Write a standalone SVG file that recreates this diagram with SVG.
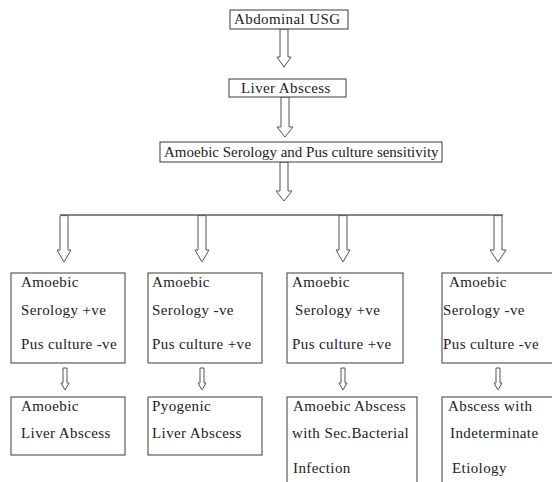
<svg xmlns="http://www.w3.org/2000/svg" width="552" height="482" viewBox="0 0 552 482">
<style>
.box{fill:#fff;stroke:#3a3a3a;stroke-width:1}
.arr{fill:#fff;stroke:#555;stroke-width:1}
.t{font-family:'Liberation Serif','Tinos','DejaVu Serif',serif;font-size:15px;fill:#222;letter-spacing:0.4px}
.tl{font-family:'Liberation Serif','Tinos','DejaVu Serif',serif;font-size:15px;fill:#222}
</style>
<g id="connectors">
<path class="arr" d="M280,29 V57 H277 L284,67 L291,57 H288 V29 Z"/>
<path class="arr" d="M281,97 V127 H277 L285,137 L293,127 H289 V97 Z"/>
<path class="arr" d="M280,162 V191 H276 L284,201 L292,191 H288 V162 Z"/>
<line x1="60" y1="215" x2="503" y2="215" stroke="#111" stroke-width="1.2"/>
<path class="arr" d="M60,215.6 V250 H57 L64,262 L71,250 H68 V215.6 Z"/>
<path class="arr" d="M198,215.6 V250 H195 L202,262 L209,250 H206 V215.6 Z"/>
<path class="arr" d="M339,215.6 V250 H336 L343,262 L350,250 H347 V215.6 Z"/>
<path class="arr" d="M494,215.6 V250 H490 L498,262 L506,250 H502 V215.6 Z"/>
<path class="arr" d="M63,368 V383 H61 L65,390 L69,383 H67 V368 Z"/>
<path class="arr" d="M200,368 V383 H198 L202,390 L206,383 H204 V368 Z"/>
<path class="arr" d="M341,368 V383 H339 L343,390 L347,383 H345 V368 Z"/>
<path class="arr" d="M496,368 V383 H494 L498,390 L502,383 H500 V368 Z"/>
</g>
<g id="n_usg"><rect class="box" x="230" y="10" width="118" height="19"/><text class="t" x="234" y="24">Abdominal USG</text></g>
<g id="n_liver"><rect class="box" x="229" y="79" width="117" height="18"/><text class="t" x="241" y="93">Liver Abscess</text></g>
<g id="n_serology"><rect class="box" x="160" y="142" width="282" height="20"/><text class="tl" x="164" y="157">Amoebic Serology and Pus culture sensitivity</text></g>
<g id="n_c1"><rect class="box" x="11" y="273" width="114" height="90"/>
<text class="t" x="21" y="287">Amoebic</text><text class="t" x="21" y="315">Serology +ve</text><text class="t" x="21" y="349">Pus culture -ve</text></g>
<g id="n_c2"><rect class="box" x="148" y="273" width="114" height="90"/>
<text class="t" x="152" y="287">Amoebic</text><text class="t" x="152" y="315">Serology -ve</text><text class="t" x="152" y="349">Pus culture +ve</text></g>
<g id="n_c3"><rect class="box" x="287" y="273" width="116" height="90"/>
<text class="t" x="292" y="287">Amoebic</text><text class="t" x="295" y="315">Serology +ve</text><text class="t" x="292" y="349">Pus culture +ve</text></g>
<g id="n_c4"><rect class="box" x="442" y="273" width="120" height="90"/>
<text class="t" x="449" y="287">Amoebic</text><text class="t" x="443" y="315">Serology -ve</text><text class="t" x="443" y="349">Pus culture -ve</text></g>
<g id="n_r1"><rect class="box" x="11" y="397" width="114" height="58"/>
<text class="t" x="21" y="411">Amoebic</text><text class="t" x="21" y="438">Liver Abscess</text></g>
<g id="n_r2"><rect class="box" x="148" y="397" width="114" height="58"/>
<text class="t" x="152" y="411">Pyogenic</text><text class="t" x="152" y="438">Liver Abscess</text></g>
<g id="n_r3"><rect class="box" x="287" y="397" width="130" height="100"/>
<text class="t" x="293" y="411">Amoebic Abscess</text><text class="t" x="292" y="438">with Sec.Bacterial</text><text class="t" x="293" y="473">Infection</text></g>
<g id="n_r4"><rect class="box" x="442" y="397" width="120" height="100"/>
<text class="t" x="448" y="411">Abscess with</text><text class="t" x="450" y="438">Indeterminate</text><text class="t" x="452" y="473">Etiology</text></g>
</svg>
